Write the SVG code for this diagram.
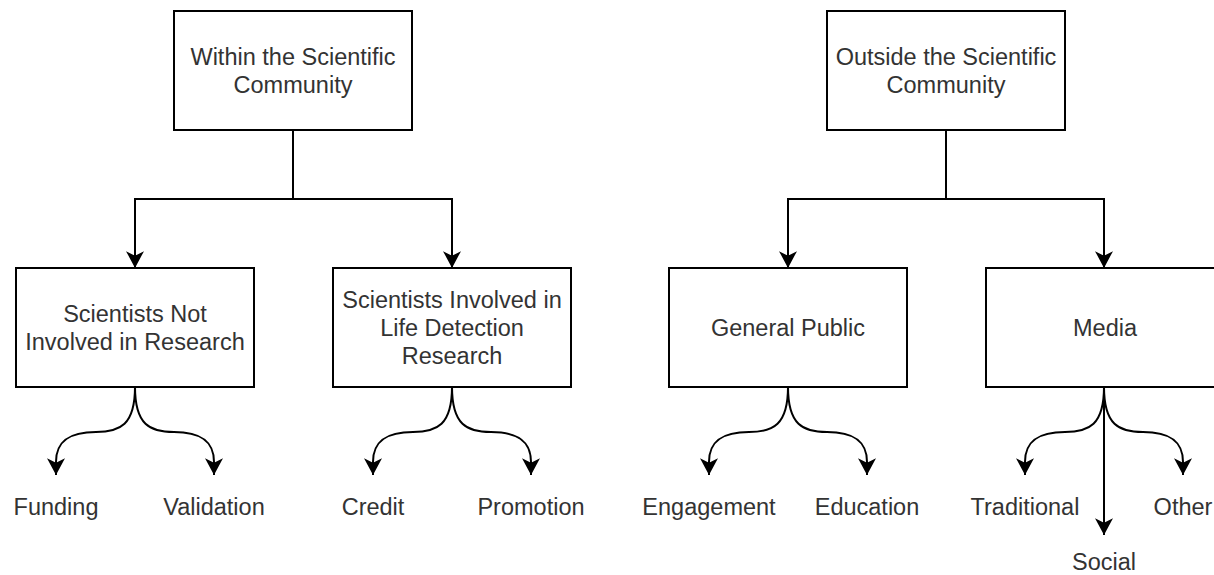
<svg xmlns="http://www.w3.org/2000/svg" width="1214" height="575" viewBox="0 0 1214 575">
  <style>
    .box { fill: #ffffff; stroke: #000000; stroke-width: 2; }
    .lbl { font-family: "Liberation Sans", Arial, Helvetica, sans-serif; font-size: 23.5px; fill: #333333; text-anchor: middle; }
    .edge { fill: none; stroke: #000000; stroke-width: 2; marker-end: url(#arrow); }
    .plain { fill: none; stroke: #000000; stroke-width: 2; }
  </style>
  <defs>
    <marker id="arrow" markerUnits="userSpaceOnUse" markerWidth="18" markerHeight="18" refX="15" refY="8" orient="auto" viewBox="0 0 16 16">
      <path d="M0,0 L15,8 L0,16 L4,8 Z" fill="#000000"/>
    </marker>
  </defs>
  <rect width="1214" height="575" fill="#ffffff"/>

  <g id="connectors">
    <path class="plain" d="M293,130 V199"/>
    <path class="edge" d="M293,199 H135 V268"/>
    <path class="edge" d="M293,199 H452 V268"/>
    <path class="plain" d="M946,130 V199"/>
    <path class="edge" d="M946,199 H788 V268"/>
    <path class="edge" d="M946,199 H1104 V268"/>

    <path class="edge" d="M135,387 C135,425 120,432 96,432 C71,432 56,440 56,462 L56,475"/>
    <path class="edge" d="M135,387 C135,425 150,432 174,432 C199,432 214,440 214,462 L214,475"/>
    <path class="edge" d="M452,387 C452,425 437,432 413,432 C388,432 373,440 373,462 L373,475"/>
    <path class="edge" d="M452,387 C452,425 467,432 491,432 C516,432 531,440 531,462 L531,475"/>
    <path class="edge" d="M788,387 C788,425 773,432 749,432 C724,432 709,440 709,462 L709,475"/>
    <path class="edge" d="M788,387 C788,425 803,432 827,432 C852,432 867,440 867,462 L867,475"/>
    <path class="edge" d="M1104,387 C1104,425 1089,432 1065,432 C1040,432 1025,440 1025,462 L1025,475"/>
    <path class="edge" d="M1104,387 C1104,425 1119,432 1143,432 C1168,432 1183,440 1183,462 L1183,475"/>
    <path class="edge" d="M1104,387 V535"/>
  </g>

  <g id="within">
    <rect class="box" x="174" y="11" width="238" height="119"/>
    <text class="lbl" x="293" y="65">Within the Scientific</text>
    <text class="lbl" x="293" y="93">Community</text>
  </g>
  <g id="outside">
    <rect class="box" x="827" y="11" width="238" height="119"/>
    <text class="lbl" x="946" y="65">Outside the Scientific</text>
    <text class="lbl" x="946" y="93">Community</text>
  </g>
  <g id="not-involved">
    <rect class="box" x="16" y="268" width="238" height="119"/>
    <text class="lbl" x="135" y="322">Scientists Not</text>
    <text class="lbl" x="135" y="350">Involved in Research</text>
  </g>
  <g id="involved">
    <rect class="box" x="333" y="268" width="238" height="119"/>
    <text class="lbl" x="452" y="308">Scientists Involved in</text>
    <text class="lbl" x="452" y="336">Life Detection</text>
    <text class="lbl" x="452" y="364">Research</text>
  </g>
  <g id="general-public">
    <rect class="box" x="669" y="268" width="238" height="119"/>
    <text class="lbl" x="788" y="336">General Public</text>
  </g>
  <g id="media">
    <rect class="box" x="986" y="268" width="238" height="119"/>
    <text class="lbl" x="1105" y="336">Media</text>
  </g>

  <g id="funding"><text class="lbl" x="56" y="515">Funding</text></g>
  <g id="validation"><text class="lbl" x="214" y="515">Validation</text></g>
  <g id="credit"><text class="lbl" x="373" y="515">Credit</text></g>
  <g id="promotion"><text class="lbl" x="531" y="515">Promotion</text></g>
  <g id="engagement"><text class="lbl" x="709" y="515">Engagement</text></g>
  <g id="education"><text class="lbl" x="867" y="515">Education</text></g>
  <g id="traditional"><text class="lbl" x="1025" y="515">Traditional</text></g>
  <g id="other"><text class="lbl" x="1183" y="515">Other</text></g>
  <g id="social"><text class="lbl" x="1104" y="570">Social</text></g>
</svg>
